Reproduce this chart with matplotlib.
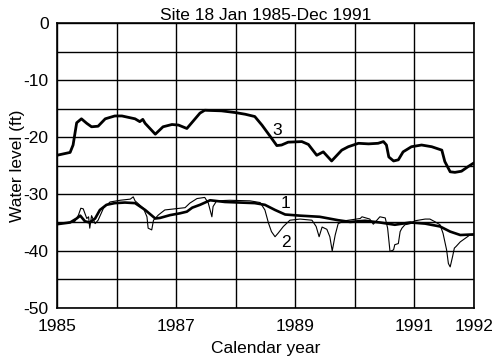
import numpy as np
import matplotlib
matplotlib.use("Agg")
import matplotlib.pyplot as plt

plt.rcParams['font.family'] = ['Liberation Sans', 'DejaVu Sans']
plt.rcParams['axes.unicode_minus'] = False

# curve 3 (upper, thick)
x3 = [1985.00, 1985.22, 1985.27, 1985.33, 1985.41, 1985.50, 1985.58, 1985.69, 1985.81, 1985.97,
      1986.09, 1986.31, 1986.39, 1986.44, 1986.48, 1986.65, 1986.78, 1986.93, 1987.04, 1987.18,
      1987.40, 1987.48, 1987.76, 1987.99, 1988.16, 1988.32, 1988.44, 1988.58, 1988.69, 1988.77,
      1988.88, 1989.11, 1989.22, 1989.36, 1989.47, 1989.61, 1989.78, 1989.89, 1990.06, 1990.23,
      1990.39, 1990.48, 1990.53, 1990.57, 1990.65, 1990.73, 1990.81, 1990.95, 1991.12, 1991.29,
      1991.46, 1991.51, 1991.60, 1991.68, 1991.79, 1991.90, 1991.99]
y3 = [-23.2, -22.7, -21.4, -17.5, -16.8, -17.6, -18.2, -18.1, -16.8, -16.3,
      -16.3, -16.8, -17.3, -16.9, -17.6, -19.5, -18.2, -17.8, -17.9, -18.5,
      -15.8, -15.3, -15.4, -15.7, -16.0, -16.4, -17.9, -19.9, -21.5, -21.4,
      -20.9, -20.8, -21.3, -23.2, -22.6, -24.2, -22.3, -21.7, -21.1, -21.2,
      -21.1, -20.8, -21.4, -23.5, -24.2, -24.0, -22.6, -21.7, -21.4, -21.7,
      -22.3, -24.3, -26.1, -26.2, -26.0, -25.2, -24.6]

# curve 1 (lower, thick, smooth)
x1 = [1985.00, 1985.22, 1985.33, 1985.39, 1985.47, 1985.55, 1985.64, 1985.72, 1985.83, 1985.97,
      1986.14, 1986.31, 1986.48, 1986.65, 1986.73, 1986.90, 1987.06, 1987.18, 1987.27, 1987.40,
      1987.57, 1987.82, 1988.07, 1988.32, 1988.49, 1988.66, 1988.83, 1989.08, 1989.41, 1989.72,
      1989.92, 1990.17, 1990.42, 1990.67, 1990.93, 1991.18, 1991.43, 1991.60, 1991.77, 1991.98]
y1 = [-35.3, -35.0, -34.3, -33.8, -34.8, -35.0, -34.3, -32.8, -31.9, -31.6,
      -31.5, -31.6, -32.8, -34.3, -34.2, -33.7, -33.4, -33.1, -32.4, -31.9,
      -31.1, -31.4, -31.5, -31.6, -31.9, -32.8, -33.6, -33.8, -34.0, -34.6,
      -34.9, -34.7, -35.0, -35.4, -35.0, -35.2, -35.7, -36.6, -37.2, -37.1]

# curve 2 (thin, with pumping drawdowns)
x2 = [1985.00, 1985.30, 1985.36, 1985.40, 1985.44, 1985.50, 1985.53, 1985.55, 1985.58, 1985.64,
      1985.69, 1985.78, 1985.89, 1986.06, 1986.23, 1986.28, 1986.31, 1986.45, 1986.51, 1986.53,
      1986.59, 1986.62, 1986.70, 1986.81, 1986.98, 1987.15, 1987.23, 1987.35, 1987.48, 1987.54,
      1987.60, 1987.62, 1987.68, 1987.90, 1988.24, 1988.41, 1988.49, 1988.55, 1988.60, 1988.66,
      1988.71, 1988.80, 1988.91, 1989.08, 1989.28, 1989.35, 1989.40, 1989.45, 1989.53, 1989.58,
      1989.62, 1989.67, 1989.72, 1989.83, 1990.09, 1990.12, 1990.25, 1990.31, 1990.37, 1990.42,
      1990.51, 1990.55, 1990.59, 1990.65, 1990.67, 1990.73, 1990.76, 1990.79, 1990.84, 1990.93,
      1991.01, 1991.18, 1991.26, 1991.35, 1991.43, 1991.48, 1991.54, 1991.57, 1991.60, 1991.64,
      1991.67, 1991.70, 1991.77, 1991.85, 1991.93, 1992.00]
y2 = [-35.3, -34.8, -33.7, -32.5, -32.6, -34.3, -34.0, -36.0, -33.8, -35.2,
      -34.6, -32.5, -31.4, -31.1, -30.9, -30.5, -31.2, -32.5, -34.0, -36.0,
      -36.3, -34.6, -33.7, -32.8, -32.6, -32.4, -31.6, -30.8, -30.6, -31.6,
      -34.0, -32.2, -31.2, -31.1, -31.2, -31.5, -32.8, -35.1, -36.6, -37.5,
      -36.9, -35.7, -34.6, -34.4, -34.6, -35.7, -37.5, -35.8, -36.2, -37.5,
      -40.0, -37.2, -35.2, -34.7, -34.3, -34.0, -34.4, -35.3, -34.6, -34.0,
      -34.2, -36.0, -40.1, -39.8, -38.9, -38.7, -36.6, -36.0, -35.4, -35.2,
      -34.7, -34.4, -34.4, -34.9, -35.4, -36.9, -39.8, -42.2, -42.8, -41.0,
      -39.5, -39.2, -38.4, -37.8, -37.2, -37.2]

years = [1985, 1986, 1987, 1988, 1989, 1990, 1991, 1992]
year_labels = ['1985', '', '1987', '', '1989', '', '1991', '1992']
levels = [0, -5, -10, -15, -20, -25, -30, -35, -40, -45, -50]
level_labels = ['0', '', '-10', '', '-20', '', '-30', '', '-40', '', '-50']

fig = plt.figure(figsize=(5, 3.61), dpi=100)
ax = fig.add_axes([0.114, 0.147, 0.834, 0.789])

ax.plot(x3, y3, color='black', lw=2.0, solid_joinstyle='round')
ax.plot(x1, y1, color='black', lw=1.9, solid_joinstyle='round')
ax.plot(x2, y2, color='black', lw=0.8)

ax.text(1988.62, -19.6, '3', fontsize=12.5)
ax.text(1988.76, -32.5, '1', fontsize=12.5)
ax.text(1988.77, -39.3, '2', fontsize=12.5)

ax.set_xlim(1985, 1992)
ax.set_ylim(-50, 0)
ax.set_xticks(years)
ax.set_xticklabels(year_labels, fontsize=12.5)
ax.set_yticks(levels)
ax.set_yticklabels(level_labels, fontsize=12.5)
ax.tick_params(axis='y', length=0, pad=6)
ax.tick_params(axis='x', length=0, pad=8)
ax.grid(True, color='black', lw=1.0)
for s in ax.spines.values():
    s.set_linewidth(1.2)

ax.set_title('Site 18 Jan 1985-Dec 1991', fontsize=12.5, pad=2)
ax.set_xlabel('Calendar year', fontsize=12.5, labelpad=5)
ax.set_ylabel('Water level (ft)', fontsize=12.5, labelpad=-1)

fig.savefig('out.png', dpi=100)
